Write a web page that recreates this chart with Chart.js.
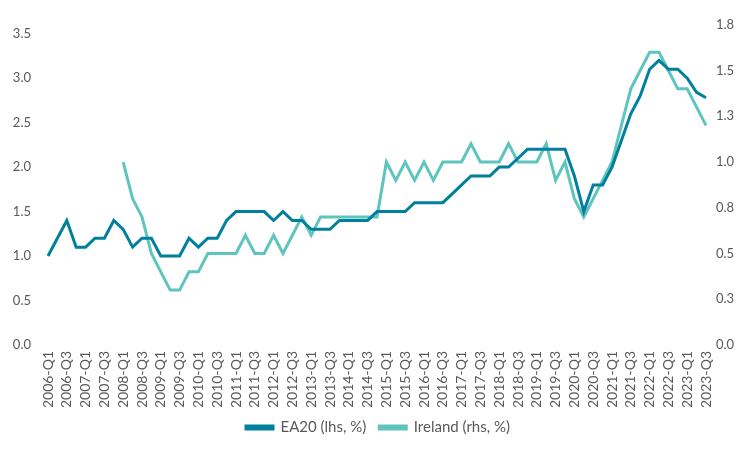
<!DOCTYPE html>
<html>
<head>
<meta charset="utf-8">
<script src="https://cdn.jsdelivr.net/npm/chart.js@4"></script>
<style>
  html, body { margin: 0; padding: 0; background: #fff; }
  #wrap { width: 756px; height: 450px; position: relative; }
</style>
</head>
<body>
<div id="wrap"><canvas id="chart"></canvas></div>
<script>
// quarters 2006-Q1 .. 2023-Q3
const quarters = [];
for (let y = 2006; y <= 2023; y++) {
    for (let q = 1; q <= 4; q++) {
        if (y === 2023 && q > 3) break;
        quarters.push(y + '-Q' + q);
    }
}

// EA20, left axis (%)
const ea20 = [
    1.0, 1.2, 1.4, 1.1, 1.1, 1.2, 1.2, 1.4,
    1.3, 1.1, 1.2, 1.2, 1.0, 1.0, 1.0, 1.2,
    1.1, 1.2, 1.2, 1.4, 1.5, 1.5, 1.5, 1.5,
    1.4, 1.5, 1.4, 1.4, 1.3, 1.3, 1.3, 1.4,
    1.4, 1.4, 1.4, 1.5, 1.5, 1.5, 1.5, 1.6,
    1.6, 1.6, 1.6, 1.7, 1.8, 1.9, 1.9, 1.9,
    2.0, 2.0, 2.1, 2.2, 2.2, 2.2, 2.2, 2.2,
    1.9, 1.5, 1.8, 1.8, 2.0, 2.3, 2.6, 2.8,
    3.1, 3.2, 3.1, 3.1, 3.0, 2.84, 2.78
];

// Ireland, right axis (%), starts 2008-Q1
const ireland = [
    null, null, null, null, null, null, null, null,
    1.0, 0.8, 0.7, 0.5, 0.4, 0.3, 0.3, 0.4,
    0.4, 0.5, 0.5, 0.5, 0.5, 0.6, 0.5, 0.5,
    0.6, 0.5, 0.6, 0.7, 0.6, 0.7, 0.7, 0.7,
    0.7, 0.7, 0.7, 0.7, 1.0, 0.9, 1.0, 0.9,
    1.0, 0.9, 1.0, 1.0, 1.0, 1.1, 1.0, 1.0,
    1.0, 1.1, 1.0, 1.0, 1.0, 1.1, 0.9, 1.0,
    0.8, 0.7, 0.8, 0.9, 1.0, 1.2, 1.4, 1.5,
    1.6, 1.6, 1.5, 1.4, 1.4, 1.3, 1.2
];

const leftTicks = [0, 0.5, 1.0, 1.5, 2.0, 2.5, 3.0, 3.5];
const rightTicks = [0, 0.25, 0.5, 0.75, 1.0, 1.25, 1.5, 1.75];

const darkTeal = '#00809c';
const lightTeal = '#5ec4be';
const grey = '#595959';

Chart.defaults.font.family = 'Lato, "Open Sans", sans-serif';
Chart.defaults.color = grey;

new Chart(document.getElementById('chart'), {
    type: 'line',
    data: {
        labels: quarters,
        datasets: [
            {
                label: 'EA20 (lhs, %)',
                data: ea20,
                yAxisID: 'y',
                borderColor: darkTeal,
                backgroundColor: darkTeal,
                borderWidth: 3,
                pointRadius: 0,
                tension: 0
            },
            {
                label: 'Ireland (rhs, %)',
                data: ireland,
                yAxisID: 'y1',
                borderColor: lightTeal,
                backgroundColor: lightTeal,
                borderWidth: 3,
                pointRadius: 0,
                tension: 0
            }
        ]
    },
    options: {
        responsive: true,
        maintainAspectRatio: false,
        animation: false,
        layout: { padding: { top: 14, left: 0, right: 0, bottom: 5 } },
        plugins: {
            tooltip: { enabled: false },
            legend: {
                position: 'bottom',
                labels: {
                    boxWidth: 27,
                    boxHeight: 3,
                    padding: 13,
                    font: { size: 15 },
                    color: grey
                }
            }
        },
        scales: {
            x: {
                grid: { display: false, drawTicks: false },
                border: { display: false },
                afterFit: (s) => { s.height = 62; },
                ticks: {
                    autoSkip: false,
                    maxRotation: 90,
                    minRotation: 90,
                    padding: 6,
                    font: { size: 14 },
                    callback: function (v, i) {
                        return i % 2 === 0 ? quarters[i] : '';
                    }
                }
            },
            y: {
                position: 'left',
                min: 0,
                max: 3.6,
                grid: { display: false, drawTicks: false },
                border: { display: false },
                afterFit: (s) => { s.width = 48; },
                afterBuildTicks: (s) => { s.ticks = leftTicks.map(v => ({ value: v })); },
                ticks: {
                    padding: 17,
                    font: { size: 13 },
                    callback: (v) => v.toFixed(1)
                }
            },
            y1: {
                position: 'right',
                min: 0,
                max: 1.75,
                grid: { display: false, drawTicks: false },
                border: { display: false },
                afterFit: (s) => { s.width = 50; },
                afterBuildTicks: (s) => { s.ticks = rightTicks.map(v => ({ value: v })); },
                ticks: {
                    padding: 10,
                    font: { size: 13 },
                    callback: (v) => v.toFixed(1)
                }
            }
        }
    }
});
</script>
</body>
</html>
